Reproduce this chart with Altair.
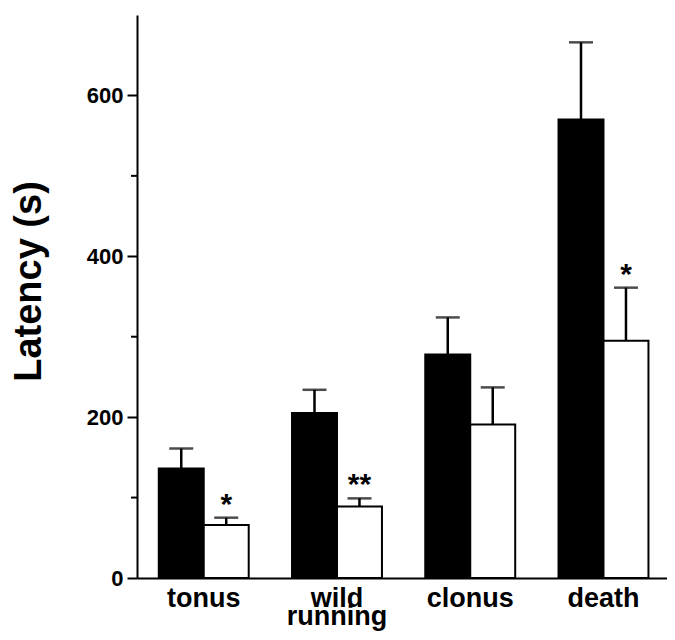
import altair as alt
import pandas as pd

categories = ["tonus", "wild running", "clonus", "death"]
groups = ["control", "treated"]
control_mean = [136, 205, 278, 570]
control_sem = [25, 29, 46, 96]
treated_mean = [66, 89, 191, 295]
treated_sem = [9, 10, 46, 66]
treated_sig = ["*", "**", "", "*"]
control_sig = ["", "", "", ""]
major_ticks = [0, 200, 400, 600]
minor_ticks = [100, 300, 500]

rows = []
for i, c in enumerate(categories):
    rows.append(dict(cat=c, group=groups[0], mean=control_mean[i],
                     top=control_mean[i] + control_sem[i], sig=control_sig[i]))
    rows.append(dict(cat=c, group=groups[1], mean=treated_mean[i],
                     top=treated_mean[i] + treated_sem[i], sig=treated_sig[i]))
df = pd.DataFrame(rows)
minor_df = pd.DataFrame({"v": minor_ticks})

FONT = "Liberation Sans"

x = alt.X("cat:N", sort=categories,
          scale=alt.Scale(paddingInner=0.325, paddingOuter=0.15125, align=0.54),
          axis=alt.Axis(title=None, labelAngle=0, ticks=False,
                        labelFont=FONT, labelFontSize=27, labelFontWeight="bold",
                        labelColor="black", labelPadding=7,
                        labelExpr="split(datum.label, ' ')",
                        labelLineHeight=18,
                        domainColor="black", domainWidth=2))
xo = alt.XOffset("group:N", sort=groups, scale=alt.Scale(paddingInner=0, paddingOuter=0))
yscale = alt.Scale(domain=[0, 700], nice=False)
yaxis = alt.Axis(values=major_ticks, title="Latency (s)",
                 titleFont=FONT, titleFontSize=38, titleFontWeight="bold",
                 titleColor="black", titlePadding=38, titleY=266,
                 labelFont=FONT, labelFontSize=22, labelFontWeight="bold",
                 labelColor="black", labelPadding=4,
                 tickSize=10, tickWidth=2, tickColor="black",
                 domainColor="black", domainWidth=2, grid=False)

bars = alt.Chart(df).mark_bar(stroke="black", strokeWidth=2).encode(
    x=x, xOffset=xo,
    y=alt.Y("mean:Q", scale=yscale, axis=yaxis, title="Latency (s)"),
    fill=alt.Fill("group:N", scale=alt.Scale(domain=groups, range=["black", "white"]), legend=None),
)

stems = alt.Chart(df).mark_rule(color="black", strokeWidth=2.5).encode(
    x=x, xOffset=xo,
    y=alt.Y("mean:Q", scale=yscale, axis=yaxis, title="Latency (s)"),
    y2="top:Q",
)

caps = alt.Chart(df).mark_tick(color="black", thickness=2.5, size=24).encode(
    x=x, xOffset=xo,
    y=alt.Y("top:Q", scale=yscale, axis=yaxis, title="Latency (s)"),
)

stars = alt.Chart(df).mark_text(font=FONT, fontSize=30, fontWeight="bold",
                                color="black", baseline="alphabetic", dy=-4).encode(
    x=x, xOffset=xo,
    y=alt.Y("top:Q", scale=yscale, axis=yaxis, title="Latency (s)"),
    text="sig:N",
)

minor = alt.Chart(minor_df).mark_rule(color="black", strokeWidth=2).encode(
    y=alt.Y("v:Q", scale=yscale, axis=yaxis, title="Latency (s)"),
    x=alt.value(-6), x2=alt.value(0),
)

chart = alt.layer(bars, stems, caps, stars, minor).properties(
    width=530, height=563,
    padding={"left": 129, "top": 7, "right": 0, "bottom": 54},
    autosize=alt.AutoSizeParams(type="none"),
).configure_view(stroke=None)

chart.save("out.html", embed_options={"renderer": "svg", "actions": False})
